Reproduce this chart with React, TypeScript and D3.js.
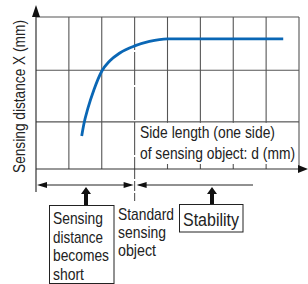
import * as d3 from "d3";

// curve, in grid units (x: columns, y: rows)
const curveX = [1.39, 1.45, 1.58, 1.76, 2.0, 2.24, 2.55, 3.0, 3.45, 4.0, 7.52];
const curveY = [0.65, 0.87, 1.2, 1.56, 1.93, 2.13, 2.29, 2.43, 2.52, 2.57, 2.57];

const xGrid = [0, 1, 2, 3, 4, 5, 6, 7, 8];
const yGrid = [0, 0.93, 1.95, 3];
const standardX = 3; // position of the standard sensing object

const yTitle = "Sensing distance X (mm)";
const xTitle = ["Side length (one side)", "of sensing object: d (mm)"];
const shortNote = ["Sensing", "distance", "becomes", "short"];
const standardNote = ["Standard", "sensing", "object"];
const stableNote = "Stability";

const W = 308;
const H = 284;
const GRID = "#555";
const FONT = "'Liberation Sans', Arial, sans-serif";

const x = d3.scaleLinear().domain([0, 8]).range([36, 299]);
const y = d3.scaleLinear().domain([0, 3]).range([169, 17]);

const upArrow = (cx: number) =>
  `M${cx},187 L${cx + 5},194 L${cx + 2},194 L${cx + 2},205 L${cx - 2},205 L${cx - 2},194 L${cx - 5},194 Z`;

export default function App() {
  const pts = curveX.map((v, i) => [x(v), y(curveY[i])] as [number, number]);
  const line = d3.line().curve(d3.curveMonotoneX)(pts) || "";
  const sx = x(standardX);
  const left = x(0);
  const right = x(8);

  const shortW = [50, 50, 56, 31];
  const stdW = [56, 48, 38];

  return (
    <svg
      width={W}
      height={H}
      style={{ position: "absolute", left: 0, top: 0, background: "#fff" }}
      fontFamily={FONT}
    >
      {/* grid */}
      {xGrid.slice(1).map((v) =>
        v === standardX ? null : (
          <line key={"gx" + v} x1={x(v)} x2={x(v)} y1={y(3)} y2={y(0)} stroke={GRID} strokeWidth={1.1} />
        )
      )}
      {yGrid.slice(1).map((v) => (
        <line key={"gy" + v} x1={left} x2={right} y1={y(v)} y2={y(v)} stroke={GRID} strokeWidth={1.1} />
      ))}

      {/* white box behind x title */}
      <rect x={sx + 1} y={y(yGrid[1]) + 1} width={right - sx - 2} height={y(0) - y(yGrid[1]) - 6} fill="#fff" />

      {/* standard object dashed line */}
      <line x1={sx} x2={sx} y1={y(3)} y2={y(0)} stroke={GRID} strokeWidth={1.1} strokeDasharray="33,2" />
      <line x1={sx} x2={sx} y1={y(0)} y2={201} stroke={GRID} strokeWidth={1.1} strokeDasharray="10,2" />

      {/* axes */}
      <line x1={left} x2={left} y1={12} y2={192} stroke="#333" strokeWidth={1.2} />
      <path d={`M${left},5 L${left + 4},17 L${left - 4},17 Z`} fill="#111" />
      <line x1={left} x2={300} y1={y(0)} y2={y(0)} stroke="#333" strokeWidth={1.2} />
      <path d={`M308,${y(0)} L298,${y(0) - 4} L298,${y(0) + 4} Z`} fill="#111" />

      {/* curve */}
      <path d={line} fill="none" stroke="#0a67b5" strokeWidth={2.8} />

      {/* titles */}
      <text
        transform={`translate(25,96.5) rotate(-90)`}
        textAnchor="middle"
        fontSize={16}
        fill="#222"
        textLength={153}
        lengthAdjust="spacingAndGlyphs"
      >
        {yTitle}
      </text>
      {xTitle.map((t, i) => (
        <text
          key={t}
          x={140}
          y={138 + i * 20.5}
          fontSize={16.5}
          fill="#222"
          textLength={i === 0 ? 135 : 155}
          lengthAdjust="spacingAndGlyphs"
        >
          {t}
        </text>
      ))}

      {/* range arrows */}
      <line x1={left + 4} x2={sx - 4} y1={185} y2={185} stroke="#222" strokeWidth={1} />
      <path d={`M${left + 1},185 L${left + 11},182 L${left + 11},188 Z`} fill="#111" />
      <path d={`M${sx - 1},185 L${sx - 11},182 L${sx - 11},188 Z`} fill="#111" />
      <line x1={sx + 4} x2={253} y1={185} y2={185} stroke="#222" strokeWidth={1} />
      <path d={`M${sx + 2},185 L${sx + 12},182 L${sx + 12},188 Z`} fill="#111" />

      {/* notes */}
      <path d={upArrow(86)} fill="#111" />
      <rect x={49.5} y={205.5} width={64.5} height={78} fill="#fff" stroke="#222" strokeWidth={1} />
      {shortNote.map((t, i) => (
        <text key={t} x={53} y={224 + i * 18.5} fontSize={17} fill="#222" textLength={shortW[i]} lengthAdjust="spacingAndGlyphs">
          {t}
        </text>
      ))}
      {standardNote.map((t, i) => (
        <text key={t} x={118} y={220 + i * 18} fontSize={17} fill="#222" textLength={stdW[i]} lengthAdjust="spacingAndGlyphs">
          {t}
        </text>
      ))}
      <path d={upArrow(212)} fill="#111" />
      <rect x={179.5} y={204.5} width={63.5} height={27.5} fill="#fff" stroke="#222" strokeWidth={1} />
      <text x={183} y={226} fontSize={17.5} fill="#222" textLength={56} lengthAdjust="spacingAndGlyphs">
        {stableNote}
      </text>
    </svg>
  );
}
